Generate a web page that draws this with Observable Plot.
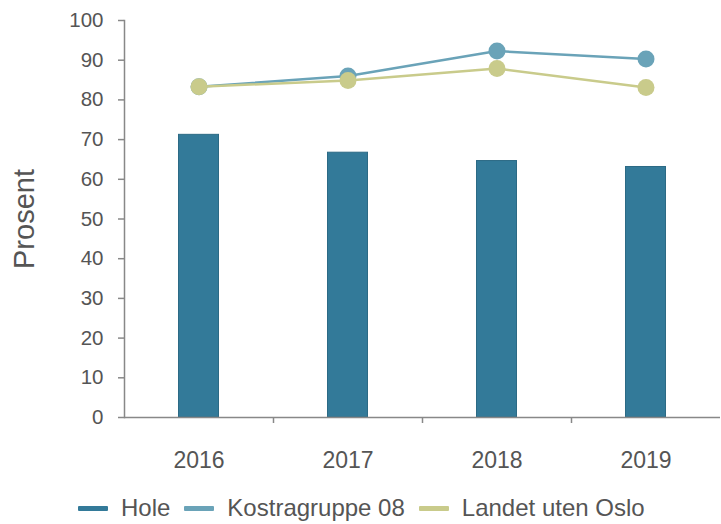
<!DOCTYPE html>
<html><head><meta charset="utf-8">
<script src="https://cdn.jsdelivr.net/npm/d3@7"></script>
<script src="https://cdn.jsdelivr.net/npm/@observablehq/plot@0.6"></script>
<style>
body{margin:0;background:#fff;font-family:"Liberation Sans",Arial,sans-serif;}
#legend{display:flex;align-items:center;margin-left:78px;margin-top:4px;font-size:24px;color:#555;}
#legend .it{display:flex;align-items:center;margin-right:14px;}
#legend .sw{width:30px;height:5px;margin-right:13px;border-radius:1px;}
</style></head><body>
<div id="chart"></div>
<div id="legend"></div>
<script>
const years = ["2016","2017","2018","2019"];
const hole = [71.2, 66.7, 64.6, 63.1];
const kostra = [83.3, 86.0, 92.3, 90.3];
const landet = [83.3, 84.9, 87.9, 83.1];
const seriesNames = ["Hole","Kostragruppe 08","Landet uten Oslo"];
const colors = ["#337a99","#6aa3b8","#c9cb8b"];
const yTicks = [0,10,20,30,40,50,60,70,80,90,100];

const W = 721, ML = 124, MR = 1;
const bw = (W - ML - MR) / years.length;
const barData = years.map((y,i)=>({year:y, value:hole[i]}));
const kData = years.map((y,i)=>({year:y, value:kostra[i]}));
const lData = years.map((y,i)=>({year:y, value:landet[i]}));

const chart = Plot.plot({
  width: W, height: 490,
  marginLeft: ML, marginRight: MR, marginTop: 20, marginBottom: 73,
  style: {fontFamily: '"Liberation Sans", Arial, sans-serif', color: "#555", background: "#fff"},
  x: {domain: years, padding: 0, label: null},
  y: {domain: [0,100], label: null},
  marks: [
    Plot.barY(barData, {x:"year", y:"value", fill: colors[0], stroke:"#2c6a85", strokeWidth:1, insetLeft:(bw-40)/2, insetRight:(bw-40)/2}),
    Plot.lineY(kData, {x:"year", y:"value", stroke: colors[1], strokeWidth: 2.5}),
    Plot.dot(kData, {x:"year", y:"value", r: 8.5, fill: colors[1]}),
    Plot.lineY(lData, {x:"year", y:"value", stroke: colors[2], strokeWidth: 2.5}),
    Plot.dot(lData, {x:"year", y:"value", r: 8.5, fill: colors[2]}),
    Plot.ruleY([0], {stroke:"#888", strokeWidth:1.5}),
    Plot.frame({anchor:"left", stroke:"#888", strokeWidth:1.5}),
    Plot.ruleX(years.slice(1), {x: d=>d, dx: -bw/2, y1: 0, y2: 0, insetBottom: -6, stroke:"#888", strokeWidth:1.5}),
    Plot.axisY({ticks: yTicks, tickSize: 6, tickPadding: 15, fontSize: 20.5, stroke:"#888", strokeWidth:1.5, label: null, fill:"#555"}),
    Plot.axisX({tickSize: 0, tickPadding: 34, fontSize: 23, label: null, fill:"#555"}),
    Plot.text(["Prosent"], {frameAnchor:"left", textAnchor:"middle", rotate:-90, dx:-100, fontSize:29, fill:"#555"})
  ]
});
document.getElementById("chart").appendChild(chart);
const lg = document.getElementById("legend");
seriesNames.forEach((n,i)=>{
  const it = document.createElement("div"); it.className="it";
  const sw = document.createElement("div"); sw.className="sw"; sw.style.background=colors[i];
  const t = document.createElement("span"); t.textContent=n;
  it.appendChild(sw); it.appendChild(t); lg.appendChild(it);
});
</script>
</body></html>
